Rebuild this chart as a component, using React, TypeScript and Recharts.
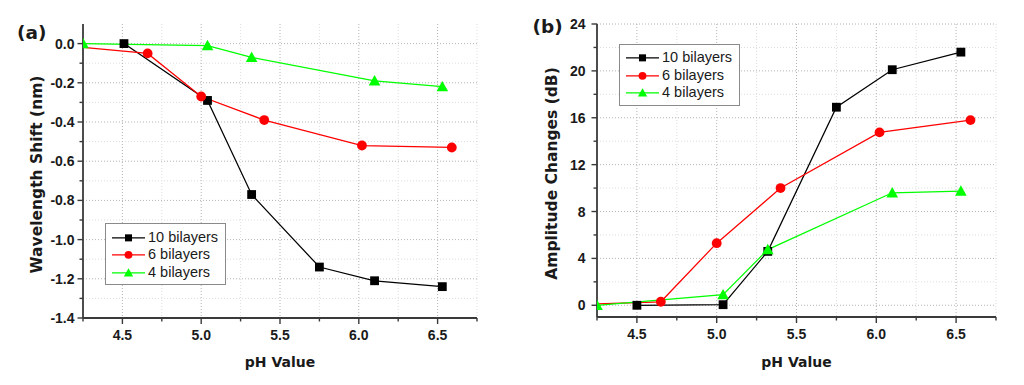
import React from 'react';
import { LineChart, Line, XAxis, YAxis, CartesianGrid, Legend } from 'recharts';

// fonts / colours
const TITLE_FONT = '"DejaVu Sans", sans-serif';
const TICK_FONT = '"Liberation Sans", Arial, sans-serif';
const AXIS = '#3a3a3a';
const INK = '#1a1a1a';

// shared series info
const seriesNames = ['10 bilayers', '6 bilayers', '4 bilayers'];
const seriesColors = ['#000000', '#ff0000', '#00ff00'];

// (a) wavelength shift (nm) vs pH
const phA10 = [4.51, 5.04, 5.32, 5.75, 6.1, 6.53];
const shiftA10 = [0.0, -0.29, -0.77, -1.14, -1.21, -1.24];
const phA6 = [4.0, 4.66, 5.0, 5.4, 6.02, 6.59];
const shiftA6 = [0.0, -0.05, -0.27, -0.39, -0.52, -0.53];
const phA4 = [4.25, 5.04, 5.32, 6.1, 6.53];
const shiftA4 = [0.0, -0.01, -0.07, -0.19, -0.22];

// (b) amplitude changes (dB) vs pH
const phB10 = [4.5, 5.04, 5.32, 5.75, 6.1, 6.53];
const ampB10 = [0.0, 0.05, 4.6, 16.9, 20.1, 21.6];
const phB6 = [4.0, 4.65, 5.0, 5.4, 6.02, 6.59];
const ampB6 = [0.0, 0.3, 5.3, 10.0, 14.75, 15.8];
const phB4 = [4.25, 5.04, 5.32, 6.1, 6.53];
const ampB4 = [0.0, 0.9, 4.75, 9.6, 9.75];

// axes
const xDomain = [4.25, 6.75];
const xMajor = [4.5, 5.0, 5.5, 6.0, 6.5];
const xMinor = [4.25, 4.75, 5.25, 5.75, 6.25, 6.75];
const yDomainA = [-1.4, 0.1];
const yMajorA = [-1.4, -1.2, -1.0, -0.8, -0.6, -0.4, -0.2, 0.0];
const yMinorA = [-1.3, -1.1, -0.9, -0.7, -0.5, -0.3, -0.1];
const yDomainB = [-1, 24];
const yMajorB = [0, 4, 8, 12, 16, 20, 24];
const yMinorB = [2, 6, 10, 14, 18, 22];

type Pt = { x: number; y: number };
type Shape = 'square' | 'circle' | 'triangle';
type Series = { name: string; color: string; shape: Shape; data: Pt[] };

const zip = (xs: number[], ys: number[]): Pt[] => xs.map((x, i) => ({ x, y: ys[i] }));
const shapes: Shape[] = ['square', 'circle', 'triangle'];

const seriesA: Series[] = [
  { name: seriesNames[0], color: seriesColors[0], shape: shapes[0], data: zip(phA10, shiftA10) },
  { name: seriesNames[1], color: seriesColors[1], shape: shapes[1], data: zip(phA6, shiftA6) },
  { name: seriesNames[2], color: seriesColors[2], shape: shapes[2], data: zip(phA4, shiftA4) },
];
const seriesB: Series[] = [
  { name: seriesNames[0], color: seriesColors[0], shape: shapes[0], data: zip(phB10, ampB10) },
  { name: seriesNames[1], color: seriesColors[1], shape: shapes[1], data: zip(phB6, ampB6) },
  { name: seriesNames[2], color: seriesColors[2], shape: shapes[2], data: zip(phB4, ampB4) },
];

const isIn = (v: number, list: number[]) => list.some((m) => Math.abs(m - v) < 1e-6);

function Marker({ shape, color, cx, cy, k = 1 }: { shape: Shape; color: string; cx: number; cy: number; k?: number }) {
  if (cx == null || cy == null) return null;
  if (shape === 'square') {
    const h = 4.4 * k;
    return <rect x={cx - h} y={cy - h} width={2 * h} height={2 * h} fill={color} />;
  }
  if (shape === 'circle') return <circle cx={cx} cy={cy} r={4.9 * k} fill={color} />;
  const w = 5.8 * k;
  return <polygon points={`${cx},${cy - w} ${cx + w},${cy + 0.8 * w} ${cx - w},${cy + 0.8 * w}`} fill={color} />;
}

function XTick(props: any) {
  const { x, y, payload } = props;
  const major = isIn(payload.value, xMajor);
  return (
    <g>
      <line x1={x} x2={x} y1={y} y2={y + (major ? 6 : 3.5)} stroke={AXIS} strokeWidth={1.4} />
      {major && (
        <text x={x} y={y + 22} textAnchor="middle" fontSize={14} fontWeight="bold" fontFamily={TICK_FONT} fill={INK}>
          {payload.value.toFixed(1)}
        </text>
      )}
    </g>
  );
}

function YTick(props: any) {
  const { x, y, payload, majors, decimals, gap } = props;
  const major = isIn(payload.value, majors);
  return (
    <g>
      <line x1={x} x2={x - (major ? 5.5 : 3.5)} y1={y} y2={y} stroke={AXIS} strokeWidth={1.4} />
      {major && (
        <text x={x - gap} y={y} dy="0.36em" textAnchor="end" fontSize={14} fontWeight="bold" fontFamily={TICK_FONT} fill={INK}>
          {payload.value.toFixed(decimals)}
        </text>
      )}
    </g>
  );
}

function YTitle(props: any) {
  const { viewBox, text, bx, dy } = props;
  const vb = viewBox || { x: 0, y: 24, width: 83, height: 294 };
  const px = vb.x + bx;
  const py = vb.y + vb.height / 2 + dy;
  return (
    <text x={px} y={py} transform={`rotate(-90 ${px} ${py})`} textAnchor="middle" fontSize={15.5} fontWeight="bold" fontFamily={TITLE_FONT} fill={INK}>
      {text}
    </text>
  );
}

function LegendBox({ series }: { series: Series[] }) {
  return (
    <div style={{ width: 121, height: 62, boxSizing: 'border-box', border: '1px solid #8a8a8a', background: '#fff', paddingTop: 4.5 }}>
      {series.map((s) => (
        <div key={s.name} style={{ height: 17.7, display: 'flex', alignItems: 'center' }}>
          <svg width={42} height={17.7} style={{ display: 'block' }}>
            <line x1={6} x2={39} y1={8.85} y2={8.85} stroke={s.color} strokeWidth={1.2} />
            <Marker shape={s.shape} color={s.color} cx={22.5} cy={8.85} k={0.8} />
          </svg>
          <span style={{ fontFamily: TICK_FONT, fontSize: 14.5, color: INK, lineHeight: '17.7px', whiteSpace: 'nowrap' }}>{s.name}</span>
        </div>
      ))}
    </div>
  );
}

type PanelProps = {
  width: number;
  marginRight: number;
  xAxisHeight: number;
  yAxisWidth: number;
  yDomain: number[];
  yMajor: number[];
  yMinor: number[];
  decimals: number;
  gap: number;
  yTitle: string;
  titleX: number;
  titleDy: number;
  series: Series[];
  legendLeft: number;
  legendTop: number;
};

function Panel(p: PanelProps) {
  const xTicks = [...xMinor, ...xMajor].sort((a, b) => a - b);
  const yTicks = [...p.yMinor, ...p.yMajor].sort((a, b) => a - b);
  return (
    <LineChart width={p.width} height={385} margin={{ top: 24, right: p.marginRight, left: 0, bottom: 0 }}>
      <CartesianGrid horizontalValues={p.yMinor} verticalValues={xMinor} stroke="#dedede" strokeDasharray="1 2" />
      <CartesianGrid horizontalValues={p.yMajor} verticalValues={xMajor} stroke="#b4b4b4" strokeDasharray="1 2" />
      <XAxis
        dataKey="x"
        type="number"
        domain={xDomain}
        allowDataOverflow
        ticks={xTicks}
        interval={0}
        tickSize={0}
        tickMargin={0}
        tickLine={false}
        tick={<XTick />}
        height={p.xAxisHeight}
        axisLine={{ stroke: AXIS, strokeWidth: 1.8 }}
        label={{ value: 'pH Value', position: 'insideBottom', offset: 18.5, fontSize: 14, fontWeight: 'bold', fontFamily: TITLE_FONT, fill: INK }}
      />
      <XAxis xAxisId="top" orientation="top" type="number" domain={xDomain} allowDataOverflow tick={false} tickLine={false} height={0} axisLine={{ stroke: AXIS, strokeWidth: 1.8 }} />
      <YAxis
        type="number"
        domain={p.yDomain}
        allowDataOverflow
        ticks={yTicks}
        interval={0}
        tickSize={0}
        tickMargin={0}
        tickLine={false}
        tick={<YTick majors={p.yMajor} decimals={p.decimals} gap={p.gap} />}
        width={p.yAxisWidth}
        axisLine={{ stroke: AXIS, strokeWidth: 1.8 }}
        label={<YTitle text={p.yTitle} bx={p.titleX} dy={p.titleDy} />}
      />
      <YAxis yAxisId="right" orientation="right" type="number" domain={p.yDomain} allowDataOverflow tick={false} tickLine={false} width={0} axisLine={{ stroke: AXIS, strokeWidth: 1.8 }} />
      {p.series.map((s) => (
        <Line
          key={s.name}
          name={s.name}
          data={s.data}
          dataKey="y"
          type="linear"
          stroke={s.color}
          strokeWidth={1.25}
          isAnimationActive={false}
          activeDot={false}
          dot={(d: any) => (
            <g key={`${s.name}-${d.index}`}>
              <Marker shape={s.shape} color={s.color} cx={d.cx} cy={d.cy} />
            </g>
          )}
        />
      ))}
      <Legend
        layout="vertical"
        align="center"
        verticalAlign="middle"
        wrapperStyle={{ left: p.legendLeft, top: p.legendTop, width: 'auto', height: 'auto' }}
        content={() => <LegendBox series={p.series} />}
      />
    </LineChart>
  );
}

export default function App() {
  return (
    <div style={{ position: 'absolute', left: 0, top: 0, width: 1024, height: 385, background: '#ffffff' }}>
      <div style={{ position: 'absolute', left: 0, top: 0 }}>
        <Panel
          width={500}
          marginRight={23}
          xAxisHeight={67}
          yAxisWidth={83}
          yDomain={yDomainA}
          yMajor={yMajorA}
          yMinor={yMinorA}
          decimals={1}
          gap={8.5}
          yTitle="Wavelength Shift (nm)"
          titleX={41.5}
          titleDy={3.5}
          series={seriesA}
          legendLeft={105}
          legendTop={223}
        />
      </div>
      <div style={{ position: 'absolute', left: 512, top: 0 }}>
        <Panel
          width={512}
          marginRight={28}
          xAxisHeight={68}
          yAxisWidth={85}
          yDomain={yDomainB}
          yMajor={yMajorB}
          yMinor={yMinorB}
          decimals={0}
          gap={11.5}
          yTitle="Amplitude Changes (dB)"
          titleX={44.5}
          titleDy={3}
          series={seriesB}
          legendLeft={107}
          legendTop={43.5}
        />
      </div>
      <svg width={1024} height={385} style={{ position: 'absolute', left: 0, top: 0, pointerEvents: 'none' }}>
        <text x={17} y={39.4} fontSize={18.5} fontWeight="bold" fontFamily={TITLE_FONT} fill={INK}>(a)</text>
        <text x={532.5} y={32.5} fontSize={18.5} fontWeight="bold" fontFamily={TITLE_FONT} fill={INK}>(b)</text>
      </svg>
    </div>
  );
}
